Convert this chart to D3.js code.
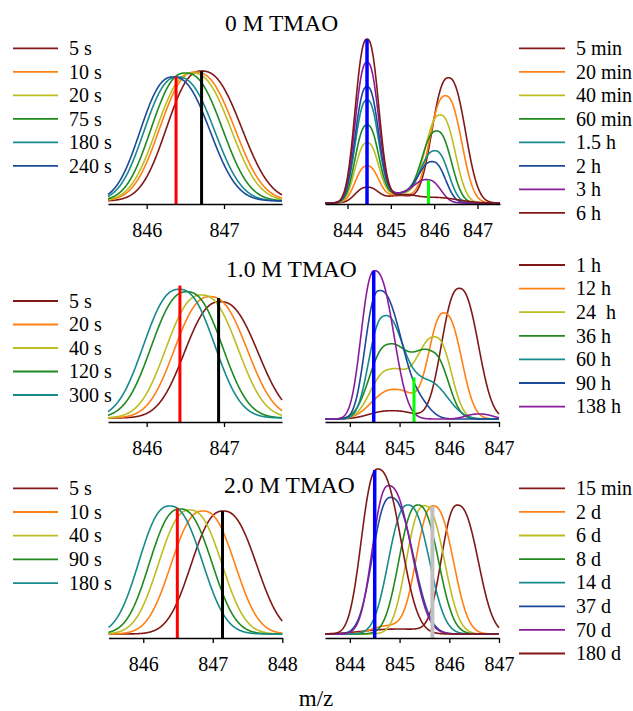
<!DOCTYPE html>
<html>
<head>
<meta charset="utf-8">
<script src="https://cdn.jsdelivr.net/npm/d3@7"></script>
<style>
  html, body { margin: 0; padding: 0; background: #fff; }
  svg { display: block; font-family: "Liberation Serif", "Times New Roman", serif; }
</style>
</head>
<body>
<svg id="chart" width="633" height="711"></svg>
<script>
// ---- data -------------------------------------------------------------
// Each curve is a list of peak components: [centre m/z, height, half-width left, half-width right]
// Heights are relative intensities (100 = tallest peak in the panel).

const titles = ["0 M TMAO", "1.0 M TMAO", "2.0 M TMAO"];
const axisTitle = "m/z";

// 0 M TMAO, fast time scale
const labelsA = ["5 s", "10 s", "20 s", "75 s", "180 s", "240 s"];
const peaksA = [
  [[846.71, 100, 0.49, 0.56]],
  [[846.63, 99.2, 0.50, 0.55]],
  [[846.59, 98.5, 0.50, 0.54]],
  [[846.50, 98.5, 0.48, 0.52]],
  [[846.40, 95.4, 0.47, 0.52]],
  [[846.34, 95.4, 0.46, 0.52]]
];
const markersA = [[846.38, 95.6], [846.71, 100]];
const domainA = [845.5, 847.75];
const ticksA = [846, 847];

// 0 M TMAO, slow time scale
const labelsB = ["5 min", "20 min", "40 min", "60 min", "1.5 h", "2 h", "3 h", "6 h"];
const peaksB = [
  [[844.45, 9.6, 0.30, 0.30], [846.33, 76.5, 0.42, 0.43], [845.2, 4.5, 0.35, 0.35]],
  [[844.45, 22.6, 0.30, 0.30], [846.26, 65.5, 0.41, 0.41], [845.2, 5.0, 0.35, 0.35]],
  [[844.45, 36.8, 0.30, 0.30], [846.14, 53.8, 0.40, 0.38], [845.2, 5.5, 0.35, 0.35]],
  [[844.45, 47.6, 0.30, 0.30], [846.06, 44.0, 0.39, 0.37], [845.2, 5.5, 0.35, 0.35]],
  [[844.45, 62.9, 0.30, 0.30], [846.02, 31.9, 0.38, 0.34], [845.2, 5.5, 0.35, 0.35]],
  [[844.45, 71.0, 0.30, 0.30], [845.96, 25.2, 0.37, 0.33], [845.2, 5.5, 0.35, 0.35]],
  [[844.45, 85.9, 0.30, 0.30], [845.86, 14.0, 0.35, 0.32], [845.2, 5.5, 0.35, 0.35]],
  [[844.45, 100, 0.30, 0.30], [845.9, 3.5, 0.70, 0.70], [845.2, 3.0, 0.35, 0.35]]
];
const markersB = [[844.45, 100], [845.87, 14]];
const domainB = [843.48, 847.52];
const ticksB = [844, 845, 846, 847];

// 1.0 M TMAO, fast time scale
const labelsC = ["5 s", "20 s", "40 s", "120 s", "300 s"];
const peaksC = [
  [[846.95, 90.4, 0.50, 0.53]],
  [[846.82, 94.3, 0.50, 0.52]],
  [[846.71, 95.6, 0.50, 0.51]],
  [[846.52, 98.1, 0.50, 0.50]],
  [[846.42, 100, 0.50, 0.50]]
];
const markersC = [[846.43, 102.9], [846.93, 93.2]];
const domainC = [845.5, 847.75];
const ticksC = [846, 847];

// 1.0 M TMAO, slow time scale
const labelsD = ["1 h", "12 h", "24  h", "36 h", "60 h", "90 h", "138 h"];
const peaksD = [
  [[844.85, 5.6, 0.50, 0.50], [846.2, 88.1, 0.39, 0.42]],
  [[844.9, 20, 0.50, 0.50], [845.9, 71, 0.34, 0.38]],
  [[844.8, 33, 0.42, 0.42], [845.72, 55, 0.42, 0.35]],
  [[844.78, 50, 0.42, 0.45], [845.65, 44, 0.40, 0.36]],
  [[844.68, 68, 0.33, 0.40], [845.5, 26, 0.45, 0.50]],
  [[844.58, 86, 0.30, 0.45], [845.25, 14, 0.35, 0.35]],
  [[844.5, 100, 0.30, 0.42], [846.6, 3.4, 0.30, 0.30]]
];
const markersD = [[844.48, 100], [845.29, 28.1]];
const domainD = [843.5, 847];
const ticksD = [844, 845, 846, 847];

// 2.0 M TMAO, fast time scale
const labelsE = ["5 s", "10 s", "40 s", "90 s", "180 s"];
const peaksE = [
  [[847.15, 96.1, 0.50, 0.52]],
  [[846.86, 96.1, 0.50, 0.50]],
  [[846.67, 96.9, 0.49, 0.50]],
  [[846.53, 97.7, 0.48, 0.50]],
  [[846.38, 100, 0.48, 0.51]]
];
const markersE = [[846.49, 98.2], [847.14, 96.1]];
const domainE = [845.5, 848];
const ticksE = [846, 847, 848];

// 2.0 M TMAO, slow time scale
const labelsF = ["15 min", "2 d", "6 d", "8 d", "14 d", "37 d", "70 d", "180 d"];
const peaksF = [
  [[846.17, 77.6, 0.36, 0.45], [845.0, 3.0, 0.80, 0.80]],
  [[845.68, 77.6, 0.38, 0.44], [844.8, 5.0, 0.40, 0.40]],
  [[845.5, 77.8, 0.40, 0.44]],
  [[845.37, 78.2, 0.42, 0.45]],
  [[845.17, 78.2, 0.43, 0.47]],
  [[844.82, 82.8, 0.40, 0.50]],
  [[844.78, 89.9, 0.36, 0.50]],
  [[844.56, 100, 0.36, 0.51]]
];
const markersF = [[844.5, 99.4], [845.66, 77.2]];
const domainF = [843.5, 847];
const ticksF = [844, 845, 846, 847];

// ---- styles -----------------------------------------------------------
const C = {
  maroon: "#801818", orange: "#ff8014", olive: "#bdbd22", green: "#1f8a1f",
  teal: "#178a8c", navy: "#1c4a9a", purple: "#8a1c9c"
};
const seq = [C.maroon, C.orange, C.olive, C.green, C.teal, C.navy, C.purple, C.maroon];

// ---- layout -----------------------------------------------------------
const panels = [
  { labels: labelsA, peaks: peaksA, markers: markersA, domain: domainA, ticks: ticksA,
    x: [108, 282], baseY: 201, H: 130, axisY: 204,
    colors: seq.slice(0, 6), markerColors: ["#ff0000", "#000000"], markerW: [3, 3],
    legend: { side: "left", y0: 48.3, dy: 23.5 } },
  { labels: labelsB, peaks: peaksB, markers: markersB, domain: domainB, ticks: ticksB,
    x: [325, 500], baseY: 203, H: 163.7, axisY: 204,
    colors: seq, markerColors: ["#0000ff", "#00ff00"], markerW: [3.5, 3],
    legend: { side: "right", y0: 48.3, dy: 23.5 } },
  { labels: labelsC, peaks: peaksC, markers: markersC, domain: domainC, ticks: ticksC,
    x: [108, 282], baseY: 418, H: 128.7, axisY: 422,
    colors: seq.slice(0, 5), markerColors: ["#ff0000", "#000000"], markerW: [3, 3],
    legend: { side: "left", y0: 301, dy: 23.5 } },
  { labels: labelsD, peaks: peaksD, markers: markersD, domain: domainD, ticks: ticksD,
    x: [325, 499], baseY: 419, H: 148.3, axisY: 422,
    colors: seq.slice(0, 7), markerColors: ["#0000ff", "#00ff00"], markerW: [3.5, 3],
    legend: { side: "right", y0: 265, dy: 23.6 } },
  { labels: labelsE, peaks: peaksE, markers: markersE, domain: domainE, ticks: ticksE,
    x: [108.5, 282.3], baseY: 634, H: 128, axisY: 638,
    colors: seq.slice(0, 5), markerColors: ["#ff0000", "#000000"], markerW: [3, 3],
    legend: { side: "left", y0: 488.3, dy: 23.7 } },
  { labels: labelsF, peaks: peaksF, markers: markersF, domain: domainF, ticks: ticksF,
    x: [325, 499], baseY: 634, H: 165, axisY: 638,
    colors: seq, markerColors: ["#0000ff", "#c0c0c0"], markerW: [3.5, 4],
    legend: { side: "right", y0: 488.3, dy: 23.6 } }
];

const titlePos = [[225, 31], [226, 277], [224, 493]];

const SHAPE_P = 2.4;
function profile(peaks) {
  return m => d3.sum(peaks, ([c, h, wl, wr]) => {
    const d = m - c;
    const w = d < 0 ? wl : wr;
    return h * Math.exp(-Math.LN2 * Math.pow(Math.abs(d) / w, SHAPE_P));
  });
}

// ---- drawing ----------------------------------------------------------
const svg = d3.select("#chart");

panels.forEach(p => {
  const x = d3.scaleLinear().domain(p.domain).range(p.x);
  const y = d3.scaleLinear().domain([0, 100]).range([p.baseY, p.baseY - p.H]);
  const g = svg.append("g");

  const grid = d3.range(p.domain[0], p.domain[1] + 1e-9, 0.005);
  const line = d3.line().x(d => x(d[0])).y(d => y(d[1])).curve(d3.curveLinear);

  p.peaks.forEach((pk, i) => {
    const f = profile(pk);
    g.append("path")
      .datum(grid.map(m => [m, f(m)]))
      .attr("d", line)
      .attr("fill", "none")
      .attr("stroke", p.colors[i])
      .attr("stroke-width", 1.6)
      .attr("stroke-linejoin", "round");
  });

  p.markers.forEach(([m, top], i) => {
    g.append("line")
      .attr("x1", x(m)).attr("x2", x(m))
      .attr("y1", p.axisY).attr("y2", y(top))
      .attr("stroke", p.markerColors[i])
      .attr("stroke-width", p.markerW[i]);
  });

  const axis = d3.axisBottom(x).tickValues(p.ticks).tickFormat(d3.format("d"))
    .tickSize(5).tickSizeOuter(0).tickPadding(14);
  const ag = g.append("g").attr("transform", `translate(0,${p.axisY})`).call(axis);
  ag.select(".domain").attr("stroke", "#000").attr("stroke-width", 1.3);
  ag.selectAll(".tick line").attr("stroke", "#000").attr("stroke-width", 1.3);
  ag.selectAll(".tick text").attr("fill", "#000")
    .style("font-family", "'Liberation Serif', serif").style("font-size", "20px");

  const lx = p.legend.side === "left" ? [13, 58, 69] : [519, 565, 576];
  p.labels.forEach((lab, i) => {
    const ly = p.legend.y0 + i * p.legend.dy;
    g.append("line").attr("x1", lx[0]).attr("x2", lx[1]).attr("y1", ly).attr("y2", ly)
      .attr("stroke", p.colors[i]).attr("stroke-width", 1.8);
    g.append("text").attr("x", lx[2]).attr("y", ly + 6.7)
      .style("font-size", "20px").style("white-space", "pre")
      .attr("fill", "#000").text(lab);
  });
});

titles.forEach((t, i) => {
  svg.append("text").attr("x", titlePos[i][0]).attr("y", titlePos[i][1])
    .style("font-size", "23.5px").attr("fill", "#000").text(t);
});

svg.append("text").attr("x", 316).attr("y", 706).attr("text-anchor", "middle")
  .style("font-size", "23px").attr("fill", "#000").text(axisTitle);
</script>
</body>
</html>
